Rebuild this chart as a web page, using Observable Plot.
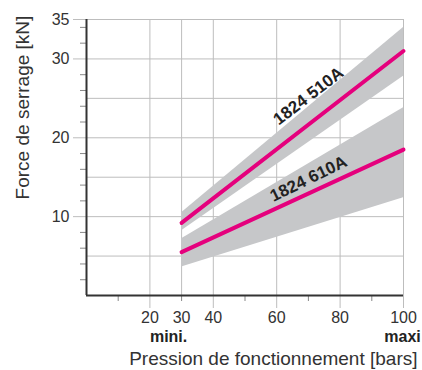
<!DOCTYPE html>
<html><head><meta charset="utf-8">
<script src="https://cdn.jsdelivr.net/npm/d3@7"></script>
<script src="https://cdn.jsdelivr.net/npm/@observablehq/plot@0.6"></script>
<style>body{margin:0;background:#fff}</style>
</head><body><div id="chart"></div>
<script>
const pressure = [30, 100];
const force510 = [9.2, 31.0];
const low510 = [8.2, 27.8];
const high510 = [10.5, 34.0];
const force610 = [5.5, 18.5];
const low610 = [3.6, 12.4];
const high610 = [7.2, 23.8];
const seriesNames = ["1824 510A", "1824 610A"];
const labelX = [70, 70];
const labelY = [25.3, 14.8];
const labelAngle = [-37.6, -26];
const yGridTicks = [5, 10, 15, 20, 25, 30, 35];
const yLabelTicks = [10, 20, 30, 35];
const yMinorTicks = [2, 4, 6, 8, 12, 14, 16, 18, 22, 24, 26, 28, 32, 34];
const xGridTicks = [20, 30, 40, 60, 80, 100];
const xLabelTicks = [20, 30, 40, 60, 80, 100];
const xLongTicks = [20, 40, 60, 80, 100];
const xShortTicks = [10, 30, 50, 70, 90];
const limitLabels = ["mini.", "maxi"];
const limitX = [30, 100];
const xTitle = "Pression de fonctionnement [bars]";
const yTitle = "Force de serrage [kN]";

const rows510 = pressure.map((p, i) => ({p, f: force510[i], lo: low510[i], hi: high510[i]}));
const rows610 = pressure.map((p, i) => ({p, f: force610[i], lo: low610[i], hi: high610[i]}));
const labels = seriesNames.map((name, i) => ({name, x: labelX[i], y: labelY[i], a: labelAngle[i]}));

const MAGENTA = "#e5007d", BAND = "#c6c7c9", GRID = "#bdbdbd", FONT = "Liberation Sans, Arial, sans-serif";
const limitStyle = {frameAnchor: "bottom", lineAnchor: "middle", textAnchor: "middle", dy: 41, fontWeight: "bold", fontSize: 16, fill: "#222"};

const chart = Plot.plot({
  width: 422, height: 370,
  marginLeft: 86, marginRight: 19, marginTop: 19, marginBottom: 75,
  x: {domain: [0, 100]},
  y: {domain: [0, 35]},
  style: {fontFamily: FONT, fontSize: "16px", color: "#333", background: "#fff"},
  marks: [
    Plot.gridY(yGridTicks, {stroke: GRID, strokeOpacity: 1}),
    Plot.gridX(xGridTicks, {stroke: GRID, strokeOpacity: 1}),
    Plot.areaY(rows510, {x: "p", y1: "lo", y2: "hi", fill: BAND}),
    Plot.areaY(rows610, {x: "p", y1: "lo", y2: "hi", fill: BAND}),
    Plot.axisY(yMinorTicks, {tickSize: 6, stroke: "#888", tickFormat: () => "", label: null}),
    Plot.axisY(yLabelTicks, {tickSize: 13, stroke: GRID, tickPadding: 4, fill: "#333", fontSize: 16, label: null}),
    Plot.axisX(xLongTicks, {tickSize: 13, stroke: GRID, tickFormat: () => "", label: null}),
    Plot.axisX(xShortTicks, {tickSize: 6, stroke: "#888", tickFormat: () => "", label: null}),
    Plot.axisX(xLabelTicks, {tickSize: 0, tickPadding: 16, fill: "#333", fontSize: 16, label: null}),
    Plot.ruleX([0], {stroke: "#333", strokeWidth: 2}),
    Plot.ruleY([0], {stroke: "#333", strokeWidth: 2}),
    Plot.line(rows510, {x: "p", y: "f", stroke: MAGENTA, strokeWidth: 4, strokeLinecap: "round"}),
    Plot.line(rows610, {x: "p", y: "f", stroke: MAGENTA, strokeWidth: 4, strokeLinecap: "round"}),
    Plot.text(labels, {x: "x", y: "y", text: "name", rotate: "a", fontWeight: "bold", fontSize: 17, fill: "#222", textAnchor: "middle"}),
    Plot.text([limitLabels[0]], {...limitStyle, x: () => limitX[0], dx: -13}),
    Plot.text([limitLabels[1]], {...limitStyle, x: () => limitX[1], dx: -1}),
    Plot.text([xTitle], {frameAnchor: "bottom-right", textAnchor: "end", lineAnchor: "middle", dx: 14, dy: 63, fontSize: 19, fill: "#333"}),
    Plot.text([yTitle], {frameAnchor: "left", textAnchor: "middle", lineAnchor: "middle", rotate: -90, dx: -64, dy: -50, fontSize: 19, fill: "#333"})
  ]
});
document.getElementById("chart").appendChild(chart);
</script>
</body></html>
